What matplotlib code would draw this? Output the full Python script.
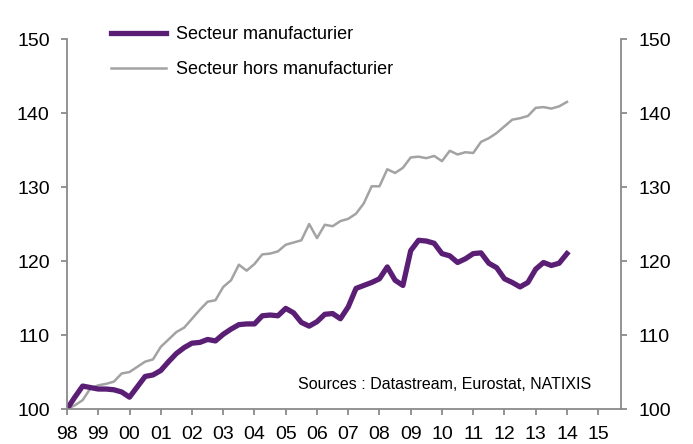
import numpy as np
import matplotlib
matplotlib.use('Agg')
import matplotlib.pyplot as plt

plt.rcParams['font.family'] = ['Liberation Sans', 'DejaVu Sans']

# trimestriel, 1998T1 -> 2014T1
annee_debut = 1998
manuf = [100.0, 101.6, 103.1, 102.9, 102.7, 102.7, 102.6, 102.3, 101.6, 103.0,
         104.4, 104.6, 105.2, 106.4, 107.5, 108.3, 108.9, 109.0, 109.4, 109.2,
         110.1, 110.8, 111.4, 111.5, 111.5, 112.6, 112.7, 112.6, 113.6, 113.0,
         111.7, 111.2, 111.8, 112.8, 112.9, 112.2, 113.8, 116.3, 116.7, 117.1,
         117.6, 119.2, 117.4, 116.7, 121.4, 122.8, 122.7, 122.4, 121.0, 120.7,
         119.8, 120.3, 121.0, 121.1, 119.7, 119.1, 117.6, 117.1, 116.5, 117.1,
         118.9, 119.8, 119.4, 119.7, 121.0]
hors_manuf = [100.0, 100.5, 101.2, 102.8, 103.2, 103.4, 103.7, 104.8, 105.0, 105.7,
              106.4, 106.7, 108.4, 109.4, 110.4, 111.0, 112.2, 113.4, 114.5, 114.7,
              116.5, 117.4, 119.5, 118.7, 119.6, 120.9, 121.0, 121.3, 122.2, 122.5,
              122.8, 125.0, 123.1, 124.9, 124.7, 125.4, 125.7, 126.4, 127.8, 130.1,
              130.1, 132.4, 131.9, 132.6, 134.0, 134.1, 133.9, 134.2, 133.5, 134.9,
              134.4, 134.7, 134.6, 136.1, 136.6, 137.3, 138.2, 139.1, 139.3, 139.6,
              140.7, 140.8, 140.6, 140.9, 141.5]
annees = list(range(1998, 2016))
labels_x = ['%02d' % (a % 100) for a in annees]
ticks_y = [100, 110, 120, 130, 140, 150]

x = annee_debut + np.arange(len(manuf)) / 4.0

violet = '#5a1f75'
gris = '#a3a3a3'
axe = '#8a8a8a'

fig = plt.figure(figsize=(6.93, 4.44), dpi=100)
ax = fig.add_axes([0.0967, 0.0788, 0.7994, 0.8333])

ax.plot(x, hors_manuf, color=gris, lw=1.8, label='Secteur hors manufacturier', solid_joinstyle='round')
ax.plot(x, manuf, color=violet, lw=3.8, label='Secteur manufacturier', solid_joinstyle='round')

ax.set_xlim(1998, 2015.73)
ax.set_ylim(100, 150)
ax.set_xticks(annees)
ax.set_xticklabels(labels_x)
ax.set_yticks(ticks_y)

ax2 = ax.twinx()
ax2.set_ylim(100, 150)
ax2.set_yticks(ticks_y)

for a in (ax, ax2):
    a.spines['top'].set_visible(False)
    for s in a.spines.values():
        s.set_color(axe)
        s.set_linewidth(1.3)
    a.tick_params(colors=axe, labelcolor='black', labelsize=14, length=4, width=1.3, direction='out')
ax.spines['right'].set_visible(False)
ax2.spines['left'].set_visible(False)
ax2.spines['bottom'].set_visible(False)
ax.tick_params(axis='y', pad=8.5)
ax.tick_params(axis='x', pad=8.5)
ax2.tick_params(axis='y', pad=8.5)

h, l = ax.get_legend_handles_labels()
leg = fig.legend(h[::-1], l[::-1], loc='upper left', bbox_to_anchor=(111 / 693, 1 - 26 / 444),
                 frameon=False, fontsize=13, handlelength=3.05, handletextpad=0.55,
                 labelspacing=1.0, borderpad=0, borderaxespad=0)

ax.text(0.947, 0.065, 'Sources : Datastream, Eurostat, NATIXIS', transform=ax.transAxes,
        ha='right', va='center', fontsize=11.5)

fig.savefig('out.png', dpi=100)
